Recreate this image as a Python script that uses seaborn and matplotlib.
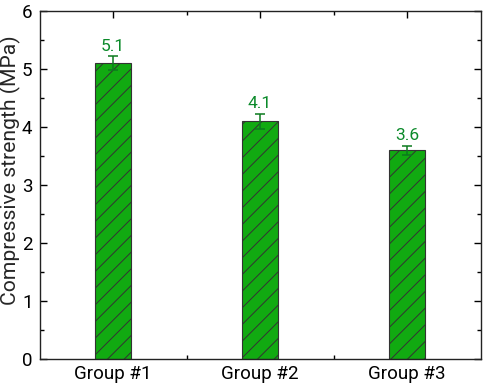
import matplotlib
matplotlib.use("Agg")
import matplotlib.pyplot as plt
import seaborn as sns
import pandas as pd
import numpy as np
from matplotlib.ticker import MultipleLocator, FixedLocator

groups = ["Group #1", "Group #2", "Group #3"]
strength = [5.1, 4.1, 3.6]
errors = [0.12, 0.13, 0.08]
labels = ["5.1", "4.1", "3.6"]

sns.set_theme(style="ticks")
plt.rcParams['font.family'] = ['Roboto', 'DejaVu Sans']
plt.rcParams['hatch.color'] = '#1a401a'
plt.rcParams['hatch.linewidth'] = 0.7

df = pd.DataFrame({"group": groups, "strength": strength})

fig = plt.figure(figsize=(4.84, 3.85), dpi=100)
ax = fig.add_axes([39.5/484, 26/385, 441/484, 348/385])

sns.barplot(data=df, x="group", y="strength", ax=ax, color="#11aa11",
            saturation=1, width=0.25, edgecolor="#333333", linewidth=0.8,
            errorbar=None)
for p in ax.patches:
    p.set_hatch("//")
    p.set_facecolor("#11aa11")

xs = np.arange(len(groups))
ax.errorbar(xs, strength, yerr=errors, fmt="none", ecolor="#0b7a1e",
            elinewidth=1.1, capsize=3.6, capthick=1.1)
for x, v, e, t in zip(xs, strength, errors, labels):
    ax.annotate(t, (x, v + e), xytext=(0, 4), textcoords="offset points",
                ha="center", va="baseline", color="#0b8a2a", fontsize=12.5)

ax.set_xlim(-0.5, 2.5)
ax.set_ylim(0, 6)
ax.yaxis.set_major_locator(MultipleLocator(1))
ax.yaxis.set_minor_locator(MultipleLocator(0.5))
ax.xaxis.set_minor_locator(FixedLocator([0.5, 1.5]))
ax.set_xlabel("")
ylab = ax.set_ylabel("Compressive strength (MPa)", fontsize=14)
ylab.set_verticalalignment("center")
ax.yaxis.set_label_coords((10.5 - 39.5) / 441, 0.543)
ax.tick_params(axis="both", which="both", direction="in", top=True, right=True,
               labelsize=13.5, colors="black")
ax.tick_params(which="major", length=5, width=1)
ax.tick_params(which="minor", length=3, width=1)
ax.tick_params(axis="y", pad=5)
ax.tick_params(axis="x", pad=4)
for s in ax.spines.values():
    s.set_visible(True)
    s.set_linewidth(1)
    s.set_color("#222222")

# fit the y-label length to the reference (about 272 px)
fig.canvas.draw()
bb = ylab.get_window_extent()
ylab.set_fontsize(14 * 272 / bb.height)

fig.savefig("out.png", dpi=100)
